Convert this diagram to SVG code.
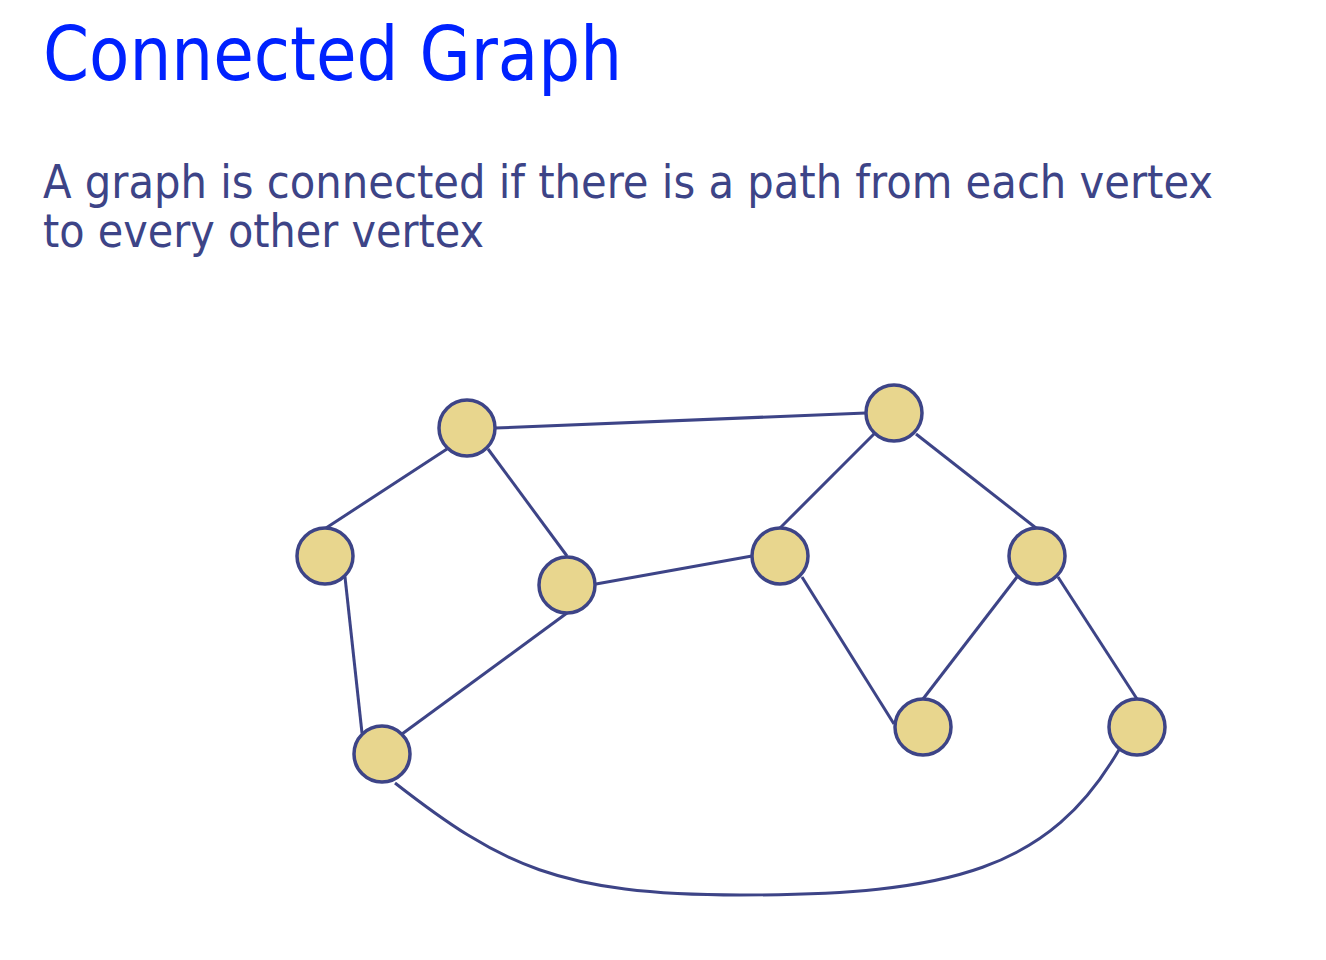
<svg xmlns="http://www.w3.org/2000/svg" width="1326" height="960" viewBox="0 0 1326 960">
<style>
.title{font-family:"DejaVu Sans Condensed","DejaVu Sans",sans-serif;font-size:74px;fill:#0022FF}
.body{font-family:"DejaVu Sans Condensed","DejaVu Sans",sans-serif;font-size:46px;fill:#3D4487}
.edge{stroke:#3D4487;stroke-width:3;fill:none}
.node{fill:#E8D68E;stroke:#3D4487;stroke-width:3.5}
</style>
<rect width="1326" height="960" fill="#FFFFFF"/>
<text class="title" x="43" y="80" textLength="579" lengthAdjust="spacingAndGlyphs">Connected Graph</text>
<text class="body" x="43" y="198" textLength="1170" lengthAdjust="spacingAndGlyphs">A graph is connected if there is a path from each vertex</text>
<text class="body" x="43" y="247" textLength="441" lengthAdjust="spacingAndGlyphs">to every other vertex</text>
<g id="connectors">
<line class="edge" x1="495" y1="428" x2="866" y2="413"/>
<line class="edge" x1="447" y1="449" x2="326" y2="528"/>
<line class="edge" x1="488" y1="449" x2="567" y2="556"/>
<line class="edge" x1="874" y1="434" x2="780" y2="528"/>
<line class="edge" x1="916" y1="434" x2="1036" y2="528"/>
<line class="edge" x1="596" y1="584" x2="752" y2="556"/>
<line class="edge" x1="345" y1="577" x2="362" y2="733"/>
<line class="edge" x1="567" y1="613" x2="402" y2="734"/>
<line class="edge" x1="802" y1="577" x2="894" y2="724"/>
<line class="edge" x1="1017" y1="577" x2="923" y2="699"/>
<line class="edge" x1="1058" y1="577" x2="1137" y2="699"/>
<path class="edge" d="M 395 783 C 500 865 560 895 740 895 C 950 895 1050 870 1120 748"/>
</g>
<g id="n1"><circle class="node" cx="467" cy="428" r="28"/></g>
<g id="n2"><circle class="node" cx="894" cy="413" r="28"/></g>
<g id="n3"><circle class="node" cx="325" cy="556" r="28"/></g>
<g id="n4"><circle class="node" cx="567" cy="585" r="28"/></g>
<g id="n5"><circle class="node" cx="780" cy="556" r="28"/></g>
<g id="n6"><circle class="node" cx="1037" cy="556" r="28"/></g>
<g id="n7"><circle class="node" cx="382" cy="754" r="28"/></g>
<g id="n8"><circle class="node" cx="923" cy="727" r="28"/></g>
<g id="n9"><circle class="node" cx="1137" cy="727" r="28"/></g>
</svg>
